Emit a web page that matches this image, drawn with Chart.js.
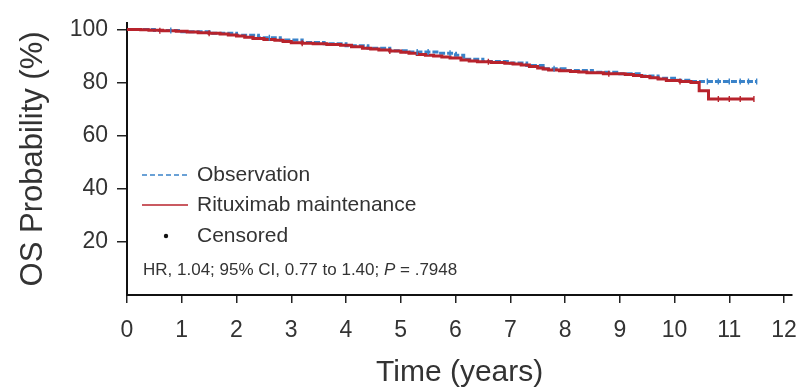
<!DOCTYPE html>
<html>
<head>
<meta charset="utf-8">
<script src="https://cdn.jsdelivr.net/npm/chart.js@4.4.1/dist/chart.umd.min.js"></script>
<style>
html,body{margin:0;padding:0;background:#fff;}
canvas{display:block;}
</style>
</head>
<body>
<canvas id="c" width="811" height="391"></canvas>
<script>
// ---- Data ----
const xTicks = [0,1,2,3,4,5,6,7,8,9,10,11,12];
const yTicks = [20,40,60,80,100];

// Rituximab maintenance: step times (years) and OS probability (%)
const rtxTime = [0,0.25,0.4,0.65,0.9,1.1,1.3,1.5,1.7,1.85,2.0,2.15,2.3,2.5,2.7,2.85,3.0,3.2,3.4,3.65,3.9,4.1,4.3,4.45,4.6,4.8,5.0,5.15,5.3,5.45,5.6,5.75,5.9,6.1,6.25,6.4,6.65,6.9,7.05,7.2,7.35,7.5,7.6,7.7,7.9,8.1,8.25,8.4,8.7,9.1,9.25,9.4,9.55,9.7,9.85,10.1,10.3,10.45,10.62,11.45];
const rtxSurv = [100,99.85,99.7,99.5,99.3,99.05,98.8,98.55,98.3,97.9,97.5,97.05,96.6,96.25,95.9,95.45,95.0,94.8,94.6,94.3,94.0,93.45,92.9,92.6,92.3,91.85,91.4,91.0,90.6,90.3,90.0,89.6,89.2,88.5,88.15,87.8,87.55,87.3,86.95,86.6,86.05,85.5,85.1,84.7,84.45,84.2,83.95,83.7,83.35,83.0,82.65,82.3,81.8,81.3,80.8,80.4,80.0,76.9,73.8,73.8];

// Observation
const obsTime = [0,0.5,1.0,1.5,2.0,2.4,2.8,3.2,3.6,4.0,4.4,4.8,5.1,5.7,6.0,6.15,6.5,7.0,7.3,7.6,8.0,8.5,9.0,9.4,9.7,10.0,10.3,11.5];
const obsSurv = [100,99.6,99.1,98.6,97.8,96.9,96.0,95.1,94.6,93.9,92.9,92.0,91.5,91.0,90.3,88.8,87.9,87.4,86.4,85.2,84.5,83.9,83.3,82.5,81.6,80.9,80.4,80.4];

// Censored marks
const rtxCensTime = [0.6,1.5,3.2,4.8,6.6,8.8,10.1,10.8,11.0,11.2,11.45];
const rtxCensSurv = [99.5,98.55,94.8,91.85,87.8,83.35,80.4,73.8,73.8,73.8,73.8];
const obsCensTime = [0.8,2.6,5.3,5.5,5.9,7.8,10.6,10.8,11.0,11.2,11.35,11.5];
const obsCensSurv = [99.6,96.9,91.5,91.5,91.0,85.2,80.4,80.4,80.4,80.4,80.4,80.4];

const legendLabels = ['Observation','Rituximab maintenance','Censored'];
const hrText = ['HR, 1.04; 95% CI, 0.77 to 1.40; ', 'P', ' = .7948'];

// ---- Styling ----
const RED = '#b8232c';
const BLUE = '#3a83c9';
const FONT = "'Liberation Sans', Arial, sans-serif";
const TXT = '#333';

const pts = (t, s) => t.map((v, i) => ({x: v, y: s[i]}));

const legendPlugin = {
  id: 'kmLegend',
  afterDraw(chart) {
    const ctx = chart.ctx;
    ctx.save();
    const rows = [175, 205, 236];
    ctx.strokeStyle = BLUE; ctx.lineWidth = 1.6; ctx.setLineDash([5,3]);
    ctx.beginPath(); ctx.moveTo(142, rows[0]); ctx.lineTo(188, rows[0]); ctx.stroke();
    ctx.setLineDash([]); ctx.strokeStyle = RED; ctx.lineWidth = 1.6;
    ctx.beginPath(); ctx.moveTo(142, rows[1]); ctx.lineTo(188, rows[1]); ctx.stroke();
    ctx.fillStyle = '#111';
    ctx.beginPath(); ctx.arc(166, rows[2], 2.2, 0, Math.PI*2); ctx.fill();
    ctx.fillStyle = TXT;
    ctx.font = '21px ' + FONT;
    ctx.textBaseline = 'middle';
    ctx.textAlign = 'left';
    legendLabels.forEach((l, i) => ctx.fillText(l, 197, rows[i]));
    let x = 143; const y = 270;
    ctx.font = '17px ' + FONT;
    ctx.fillText(hrText[0], x, y); x += ctx.measureText(hrText[0]).width;
    ctx.font = 'italic 17px ' + FONT;
    ctx.fillText(hrText[1], x, y); x += ctx.measureText(hrText[1]).width;
    ctx.font = '17px ' + FONT;
    ctx.fillText(hrText[2], x, y);
    ctx.restore();
  }
};

new Chart(document.getElementById('c'), {
  type: 'line',
  data: {
    datasets: [
      {label: 'rtx censored', data: pts(rtxCensTime, rtxCensSurv), showLine: false,
       pointStyle: 'line', rotation: 90, pointRadius: 3, pointBorderWidth: 1.4,
       borderColor: RED, pointBorderColor: RED},
      {label: 'obs censored', data: pts(obsCensTime, obsCensSurv), showLine: false,
       pointStyle: 'line', rotation: 90, pointRadius: 3, pointBorderWidth: 1.4,
       borderColor: BLUE, pointBorderColor: BLUE},
      {label: 'Rituximab maintenance', data: pts(rtxTime, rtxSurv), stepped: true,
       borderColor: RED, borderWidth: 3, pointRadius: 0, fill: false},
      {label: 'Observation', data: pts(obsTime, obsSurv), stepped: true,
       borderColor: BLUE, borderWidth: 3, borderDash: [6,2], pointRadius: 0, fill: false}
    ]
  },
  options: {
    responsive: false,
    animation: false,
    layout: {padding: {left: 0, right: 14, top: 10, bottom: 0}},
    plugins: {legend: {display: false}, tooltip: {enabled: false}},
    scales: {
      x: {
        type: 'linear', min: 0, max: 12.15,
        afterBuildTicks: s => { s.ticks = xTicks.map(v => ({value: v})); },
        afterFit: s => { s.height = 96; },
        ticks: {font: {family: FONT, size: 23}, color: TXT, padding: 14},
        grid: {drawOnChartArea: false, drawTicks: true, tickLength: 8, color: '#222', lineWidth: 1.5},
        border: {display: true, color: '#111', width: 2},
        title: {display: true, text: 'Time (years)', font: {family: FONT, size: 30}, color: TXT,
                padding: {top: 0, bottom: 0}}
      },
      y: {
        min: 0, max: 102.5,
        afterBuildTicks: s => { s.ticks = yTicks.map(v => ({value: v})); },
        afterFit: s => { s.width = 127; },
        ticks: {font: {family: FONT, size: 23}, color: TXT, padding: 9},
        grid: {drawOnChartArea: false, drawTicks: true, tickLength: 10, color: '#222', lineWidth: 1.5},
        border: {display: true, color: '#111', width: 2},
        title: {display: true, text: 'OS Probability (%)', font: {family: FONT, size: 31}, color: TXT,
                padding: {top: 15, bottom: 0}}
      }
    }
  },
  plugins: [legendPlugin]
});
</script>
</body>
</html>
